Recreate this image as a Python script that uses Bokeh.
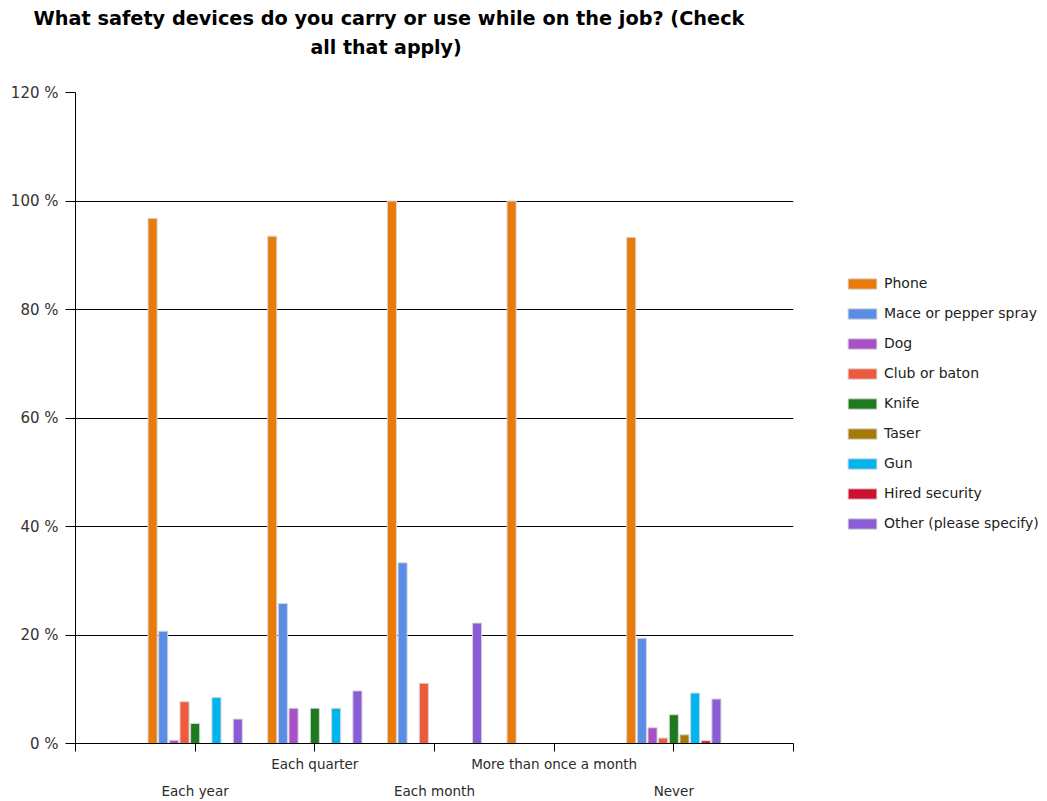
from bokeh.plotting import figure
from bokeh.models import (ColumnDataSource, Range1d, FixedTicker, LinearAxis, Legend,
                          LegendItem, Title)
from bokeh.embed import file_html
from bokeh.resources import INLINE

categories = ["Each year", "Each quarter", "Each month", "More than once a month", "Never"]
series = ["Phone", "Mace or pepper spray", "Dog", "Club or baton", "Knife", "Taser",
          "Gun", "Hired security", "Other (please specify)"]
phone = [96.8, 93.5, 100.0, 100.0, 93.3]
mace = [20.7, 25.8, 33.3, 0.0, 19.4]
dog = [0.6, 6.5, 0.0, 0.0, 2.9]
club = [7.7, 0.0, 11.1, 0.0, 1.0]
knife = [3.7, 6.5, 0.0, 0.0, 5.3]
taser = [0.0, 0.0, 0.0, 0.0, 1.6]
gun = [8.5, 6.5, 0.0, 0.0, 9.3]
hired = [0.0, 0.0, 0.0, 0.0, 0.5]
other = [4.5, 9.7, 22.2, 0.0, 8.2]
values = [phone, mace, dog, club, knife, taser, gun, hired, other]
colors = ["#E97A0C", "#5A8EE6", "#A94FC8", "#EE5A3C", "#1E7A1E", "#A77A08",
          "#00B4EE", "#CE1030", "#8A5CD6"]
y_ticks = [0, 20, 40, 60, 80, 100, 120]

p = figure(frame_width=718, frame_height=651, output_backend="svg", toolbar_location=None,
           x_range=Range1d(-1, 5), y_range=Range1d(0, 120),
           min_border_left=75, min_border_right=0, min_border_top=0, min_border_bottom=0)
p.outline_line_color = None
p.background_fill_color = "white"
p.border_fill_color = "white"
p.xgrid.grid_line_color = None
p.ygrid.grid_line_color = "black"
p.ygrid.ticker = FixedTicker(ticks=y_ticks)

# Above: spacer nearest the frame, then the two title lines
sp_top = Title(text=" ", standoff=22, text_font_size="10px")
t2 = Title(text="all that apply)", align="left", offset=235, standoff=0,
           text_font="DejaVu Sans", text_font_size="19px", text_font_style="bold", text_color="black")
t1 = Title(text="What safety devices do you carry or use while on the job? (Check", align="left",
           offset=-42, standoff=8,
           text_font="DejaVu Sans", text_font_size="19.3px", text_font_style="bold", text_color="black")
p.add_layout(sp_top, "above")
p.add_layout(t2, "above")
p.add_layout(t1, "above")

# Y axis
ya = p.yaxis[0]
ya.ticker = FixedTicker(ticks=y_ticks)
ya.major_label_overrides = {v: f"{v} %" for v in y_ticks}
ya.major_label_text_font = "DejaVu Sans"
ya.major_label_text_font_size = "15px"
ya.major_label_text_color = "#333333"
ya.axis_line_color = "black"
ya.major_tick_line_color = "black"
ya.major_tick_out = 10
ya.major_tick_in = 0
ya.minor_tick_line_color = None
ya.major_label_standoff = 7

# X axis (near row of labels)
n = len(categories)
xa = p.xaxis[0]
xa.ticker = FixedTicker(ticks=list(range(-1, n + 1)))
near = {i: "" for i in range(-1, n + 1)}
for i in range(1, n, 2):
    near[i] = categories[i]
xa.major_label_overrides = near
xa.axis_line_color = "black"
xa.major_tick_line_color = "black"
xa.major_tick_out = 8
xa.major_tick_in = 0
xa.minor_tick_line_color = None
xa.major_label_standoff = 4
xa.major_label_text_font = "DejaVu Sans"
xa.major_label_text_font_size = "13.5px"
xa.major_label_text_color = "#2b2b2b"

# X axis (far row of labels)
far = {i: categories[i] for i in range(0, n, 2)}
xa2 = LinearAxis(ticker=FixedTicker(ticks=list(range(0, n, 2))), major_label_overrides=far,
                 axis_line_color=None, major_tick_line_color=None, minor_tick_line_color=None,
                 major_tick_out=0, major_tick_in=0, major_label_standoff=8,
                 major_label_text_font="DejaVu Sans", major_label_text_font_size="13.5px",
                 major_label_text_color="#2b2b2b")
p.add_layout(xa2, "below")

# Bars
step = 0.089
bw = 0.076
items = []
for k, (name, vals, col) in enumerate(zip(series, values, colors)):
    xs = [i + (k - 4) * step for i, v in enumerate(vals) if v > 0]
    ys = [v for v in vals if v > 0]
    src = ColumnDataSource(dict(x=xs, top=ys))
    r = p.vbar(x="x", top="top", width=bw, bottom=0, source=src, fill_color=col,
               line_color="#d6d6d6", line_width=1)
    items.append(LegendItem(label=name, renderers=[r]))

legend = Legend(items=items, location=(51, 210), padding=0, spacing=10, margin=0,
                glyph_width=36, glyph_height=13, label_height=20, label_standoff=4,
                label_text_font="DejaVu Sans", label_text_font_size="14px",
                label_text_color="#222222", border_line_color=None,
                background_fill_alpha=0)
p.add_layout(legend, "right")

open("out.html", "w").write(file_html(p, INLINE))
